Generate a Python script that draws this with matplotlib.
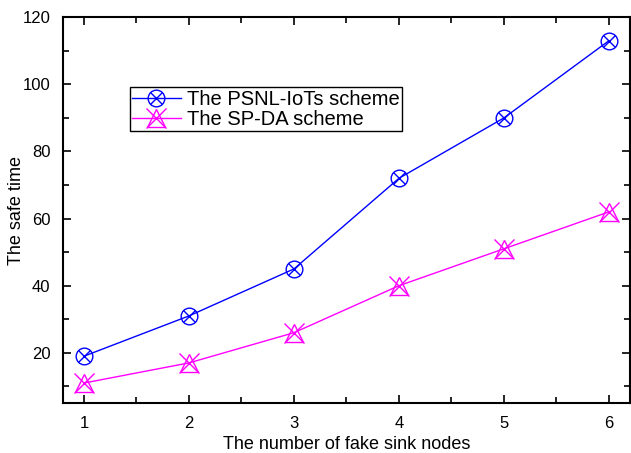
import numpy as np
import matplotlib.pyplot as plt
from matplotlib.lines import Line2D

plt.rcParams['font.family'] = ['Liberation Sans', 'DejaVu Sans']

# data
nodes = np.array([1, 2, 3, 4, 5, 6])
psnl = np.array([19, 31, 45, 72, 90, 113])
spda = np.array([11, 17, 26, 40, 51, 62])

fig = plt.figure(figsize=(6.31, 4.53), dpi=100)
ax = fig.add_axes([0.0998, 0.110, 0.8985, 0.852])

# blue: circle with a cross inside
ax.plot(nodes, psnl, color='blue', lw=1, marker='o', ms=12, mfc='none', mec='blue', mew=1)
ax.plot(nodes, psnl, ls='none', marker='x', ms=9, mec='blue', mew=1)
# magenta: triangle with a cross over it
ax.plot(nodes, spda, color='magenta', lw=1, marker='^', ms=13, mfc='none', mec='magenta', mew=1)
ax.plot(nodes, spda, ls='none', marker='x', ms=15, mec='magenta', mew=1)

ax.set_xlim(0.8, 6.2)
ax.set_ylim(5, 120)
ax.set_xticks([1, 2, 3, 4, 5, 6])
ax.set_xticks([1.5, 2.5, 3.5, 4.5, 5.5], minor=True)
ax.set_yticks([20, 40, 60, 80, 100, 120])
ax.set_yticks([10, 30, 50, 70, 90, 110], minor=True)
ax.tick_params(which='both', direction='in', top=True, right=True, labelsize=12, width=1.2, pad=9)
ax.tick_params(which='major', length=6)
ax.tick_params(which='minor', length=4)
for s in ax.spines.values():
    s.set_linewidth(1.5)

ax.set_xlabel('The number of fake sink nodes', fontsize=13, labelpad=4)
ax.set_ylabel('The safe time', fontsize=13)
ax.yaxis.set_label_coords(-0.067, 0.5)

h1 = (Line2D([], [], color='blue', lw=1, marker='o', ms=12, mfc='none', mec='blue'),
      Line2D([], [], ls='none', color='blue', marker='x', ms=9))
h2 = (Line2D([], [], color='magenta', lw=1, marker='^', ms=13, mfc='none', mec='magenta'),
      Line2D([], [], ls='none', color='magenta', marker='x', ms=15))
leg = ax.legend([h1, h2], ['The PSNL-IoTs scheme', 'The SP-DA scheme'],
                loc='upper left', bbox_to_anchor=(0.118, 0.818), fontsize=14.5,
                fancybox=False, edgecolor='black', framealpha=1, borderpad=0.12,
                labelspacing=0.05, handlelength=2.4, handletextpad=0.3, borderaxespad=0)
leg.get_frame().set_linewidth(1)

fig.savefig('out.png', dpi=100)
